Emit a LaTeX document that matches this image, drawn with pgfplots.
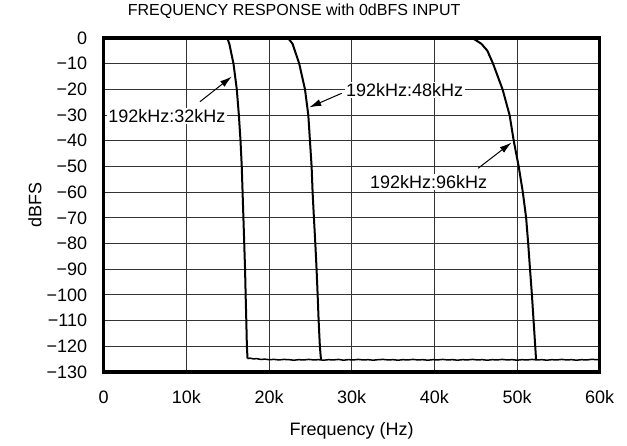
\documentclass[border=0pt]{standalone}
\usepackage{pgfplots}
\pgfplotsset{compat=1.18}
\usepackage{fontspec}
\setmainfont{Liberation Sans}
\usetikzlibrary{arrows.meta}

\begin{document}
\begin{tikzpicture}[font=\fontsize{18}{21}\selectfont]
\begin{axis}[
    scale only axis,
    width=496pt, height=334pt,
    xmin=0, xmax=60000, ymin=-130, ymax=0,
    xtick={0,10000,...,60000},
    xticklabels={0,10k,20k,30k,40k,50k,60k},
    scaled x ticks=false,
    ytick={-130,-120,...,0},
    yticklabels={−130,−120,−110,−100,−90,−80,−70,−60,−50,−40,−30,−20,−10,0},
    tick style={draw=none},
    grid=major,
    major grid style={black!80, line width=0.9pt},
    axis line style={line width=3.4pt},
    xticklabel style={anchor=base, yshift=-31pt},
    yticklabel style={anchor=east, xshift=-13pt},
    title={FREQUENCY RESPONSE with 0dBFS INPUT},
    title style={at={(0.384,1)}, anchor=base, yshift=16.3pt, font=\fontsize{16}{19}\selectfont},
    xlabel={Frequency (Hz)},
    ylabel={dBFS},
    xlabel style={at={(axis description cs:0.5,0)}, anchor=base, yshift=-63pt},
    ylabel style={at={(axis description cs:-0.1385,0.5)}, anchor=center},
]
% 192kHz:32kHz
\addplot[black, line width=2pt] coordinates {
(0,0) (14800,0) (15000,-0.5) (15200,-2.3) (15700,-10) (16100,-20) (16350,-30)
(16550,-40) (16700,-50) (16800,-60) (16900,-70) (17000,-80) (17100,-90)
(17170,-100) (17250,-110) (17320,-120) (17400,-124.8)};
% 192kHz:48kHz
\addplot[black, line width=2pt] coordinates {
(0,0) (22100,0) (22450,-0.6) (22850,-2.3) (23650,-10) (24350,-20) (24750,-30)
(24950,-40) (25150,-50) (25270,-60) (25430,-70) (25600,-80) (25750,-90)
(25880,-100) (26000,-110) (26150,-120) (26280,-125.1)};
% 192kHz:96kHz
\addplot[black, line width=2pt] coordinates {
(0,0) (43900,0) (44700,-0.3) (45100,-1) (45700,-2.3) (46400,-4.9) (47100,-10)
(48250,-20) (49100,-30) (49600,-40) (50200,-50) (50700,-60) (51100,-70)
(51350,-80) (51570,-90) (51800,-100) (52000,-110) (52200,-120) (52300,-125.2)};
% noise floor
\addplot[black, line width=1.5pt] coordinates {
(17400,-124.8) (17700,-124.6) (18100,-124.9) (18500,-124.8) (19000,-125.1) (19500,-125.0)
(20000,-125.2) (20600,-125.1) (21200,-125.3) (21800,-125.1) (22400,-125.2) (23000,-125.4)
(23600,-125.2) (24200,-125.3) (24800,-125.1) (25400,-125.3) (26000,-125.2) (26600,-125.4)
(27200,-125.2) (27800,-125.3) (28400,-125.1) (29000,-125.4) (29600,-125.2) (30200,-125.3)
(30800,-125.1) (31400,-125.3) (32000,-125.2) (32600,-125.4) (33200,-125.2) (33800,-125.1)
(34400,-125.3) (35000,-125.2) (35600,-125.4) (36200,-125.2) (36800,-125.3) (37400,-125.1)
(38000,-125.3) (38600,-125.2) (39200,-125.4) (39800,-125.2) (40400,-125.3) (41000,-125.1)
(41600,-125.3) (42200,-125.2) (42800,-125.4) (43400,-125.2) (44000,-125.3) (44600,-125.1)
(45200,-125.3) (45800,-125.2) (46400,-125.4) (47000,-125.2) (47600,-125.3) (48200,-125.1)
(48800,-125.3) (49400,-125.2) (50000,-125.4) (50600,-125.2) (51200,-125.3) (51800,-125.1)
(52400,-125.3) (53000,-125.2) (53600,-125.4) (54200,-125.2) (54800,-125.3) (55400,-125.1)
(56000,-125.3) (56600,-125.2) (57200,-125.4) (57800,-125.2) (58400,-125.3) (59000,-125.1)
(60000,-125.2)};

\draw[-{Latex[length=12pt,width=7pt]}, line width=1pt] (axis cs:11640,-24.8) -- (axis cs:15500,-15);
\draw[-{Latex[length=12pt,width=7pt]}, line width=1pt] (axis cs:28800,-21.5) -- (axis cs:24860,-27);
\draw[-{Latex[length=12pt,width=7pt]}, line width=1pt] (axis cs:45300,-50.7) -- (axis cs:49330,-40.7);
\node[fill=white, inner sep=1.5pt] at (axis cs:7650,-30.4) {192kHz:32kHz};
\node[fill=white, inner sep=1.5pt] at (axis cs:36400,-20.2) {192kHz:48kHz};
\node[fill=white, inner sep=1.5pt] at (axis cs:39300,-56) {192kHz:96kHz};
\end{axis}
\path ([shift={(-103.7pt,-73pt)}]current axis.south west) rectangle ([shift={(27.3pt,38pt)}]current axis.north east);
\end{tikzpicture}
\end{document}
